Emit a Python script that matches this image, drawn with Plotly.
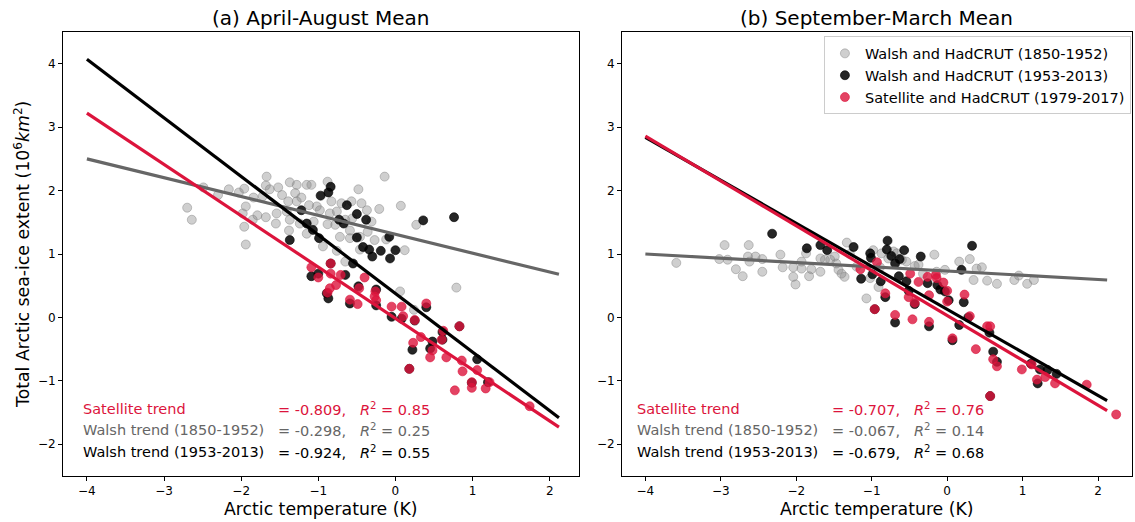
import plotly.graph_objects as go
from plotly.subplots import make_subplots

# ---------------- data ----------------
# Panel (a) April-August mean
a_gray_x = [-2.70, -2.64, -2.49, -2.30, -2.16, -2.03, -1.96, -1.84, -1.94, -1.98, -1.85, -1.79, -1.68, -1.96, -1.94,
            -1.67, -1.68, -1.72, -0.14, -1.37, -1.52, -1.28, -1.15, -1.09, -0.88, -0.48, -1.47, -1.30, -1.22, -1.39,
            -1.28, -1.12, -1.02, -0.83, -0.70, -0.57, -0.44, -0.37, -0.21, 0.07, -1.54, -1.41, -0.98, -0.85, -0.76,
            -0.65, -0.56, -0.31, -1.55, -1.37, -1.24, -1.06, -0.88, -0.78, -1.38, -1.15, -0.59, -0.72, -0.59, -0.46,
            -0.27, -0.94, -0.76, -0.46, -0.12, 0.12, 0.27, -0.65, 0.06, 0.79, 0.24, -0.36, -1.63]
a_gray_y = [1.73, 1.54, 2.05, 1.93, 2.02, 1.97, 2.03, 1.89, 1.75, 1.64, 1.54, 1.61, 1.58, 1.43, 1.15,
            2.22, 2.08, 1.91, 2.22, 2.13, 2.05, 2.09, 2.09, 2.09, 2.14, 2.02, 1.93, 1.96, 1.89, 1.83,
            1.83, 1.77, 1.75, 1.83, 1.80, 1.83, 1.80, 1.69, 1.71, 1.76, 1.64, 1.67, 1.69, 1.64, 1.67,
            1.54, 1.56, 1.51, 1.48, 1.54, 1.48, 1.51, 1.47, 1.46, 1.37, 1.32, 1.37, 1.27, 1.25, 1.27,
            1.22, 1.12, 1.05, 1.07, 1.23, 1.06, 1.46, 0.88, 0.41, 0.47, 0.12, 1.35, 2.02]
a_black_x = [-0.84, -0.87, -0.97, -0.63, -0.50, -0.38, -1.22, -0.73, -0.67, -1.15, -1.07, -0.99, -1.37, -0.50, -0.08,
             0.36, 0.76, -0.42, -0.34, -0.19, 0.00, -0.30, -0.07, -0.55, -0.84, -1.09, -1.00, -0.65, -0.48, -0.87,
             -0.59, -0.25, -0.25, -0.05, 0.08, 0.40, 0.22, 0.45, 0.61, 0.83, 0.18, 1.06, 0.99, 1.20, 0.61,
             0.25, 0.48, -0.89]
a_black_y = [2.06, 1.97, 1.92, 1.77, 1.63, 1.54, 1.69, 1.54, 1.48, 1.48, 1.38, 1.25, 1.22, 1.26, 1.27,
             1.53, 1.58, 1.11, 1.07, 1.05, 1.06, 0.96, 0.93, 0.85, 0.85, 0.65, 0.69, 0.67, 0.49, 0.30,
             0.22, 0.44, 0.19, 0.01, -0.02, 0.16, -0.51, -0.49, -0.35, -0.14, -0.81, -0.66, -1.03, -1.02, -0.23,
             -0.05, -0.38, 0.38]
a_red_x = [-1.09, -0.84, -1.00, -0.84, -0.71, -0.40, -0.85, -0.77, -0.88, -0.59, -0.49, -0.47, -0.26, -0.27, -0.05,
           0.08, 0.10, 0.25, 0.40, 0.83, 0.62, 0.60, 0.33, 0.23, 0.48, 0.45, 0.66, 0.86, 0.87, 1.06,
           0.77, 0.99, 0.99, 1.17, 1.22, 0.18, 1.74, -0.25]
a_red_y = [0.79, 0.85, 0.63, 0.69, 0.67, 0.63, 0.46, 0.51, 0.39, 0.28, 0.21, 0.46, 0.41, 0.33, 0.17,
           0.17, 0.02, -0.04, 0.22, -0.14, -0.21, -0.35, -0.31, -0.40, -0.52, -0.63, -0.63, -0.68, -0.85, -0.83,
           -1.15, -1.02, -1.11, -1.12, -1.02, -0.81, -1.40, 0.27]

# Panel (b) September-March mean
b_gray_x = [-3.59, -2.95, -2.63, -3.02, -2.91, -2.80, -2.71, -2.64, -2.62, -2.54, -2.45, -2.45, -2.21, -2.18, -2.04,
            -2.04, -2.01, -1.93, -1.93, -1.87, -1.83, -1.80, -1.68, -1.68, -1.62, -1.33, -1.49, -1.44, -1.36, -0.98,
            -0.87, -0.67, -0.54, -0.78, -1.07, -0.91, -0.38, -0.17, -0.03, 0.16, 0.30, 0.39, 0.46, 0.35, 0.53,
            0.66, 0.89, 0.95, 1.06, 1.15, -0.32, -0.14, -1.20, -1.29, -1.47, -0.89, -0.71, -0.60, -0.43, -1.55,
            -1.02, -1.40]
b_gray_y = [0.86, 1.14, 1.14, 0.92, 0.91, 0.76, 0.65, 0.96, 0.88, 0.96, 0.92, 0.72, 0.99, 0.79, 0.79,
            0.64, 0.52, 0.88, 0.77, 1.01, 0.65, 0.76, 0.72, 0.93, 0.91, 1.18, 0.96, 0.75, 0.64, 1.06,
            1.01, 1.01, 0.88, 0.93, 0.30, 0.48, 0.83, 0.99, 0.75, 0.88, 0.92, 0.77, 0.79, 0.59, 0.58,
            0.53, 0.59, 0.66, 0.53, 0.59, 0.69, 0.72, 0.80, 1.00, 0.85, 0.79, 1.04, 0.91, 0.81, 0.91,
            0.62, 0.69]
b_black_x = [-2.32, -1.86, -1.68, -1.59, -1.24, -1.02, -1.01, -0.79, -0.80, -0.74, -0.63, -0.57, -0.69, -0.35, 0.33,
             -1.14, -0.99, -0.88, -0.64, -0.54, -0.51, -0.43, -0.26, -0.13, -0.09, 0.02, -0.03, 0.19, 0.22, -0.82,
             -0.69, -0.24, 0.16, 0.28, -0.96, 0.07, 0.56, 0.61, 0.66, 1.11, 1.23, 1.33, 1.45, 1.20, 0.57]
b_black_y = [1.32, 1.09, 1.14, 1.06, 1.11, 1.01, 0.94, 1.21, 1.07, 0.97, 0.92, 1.06, 0.85, 0.96, 1.13,
             0.61, 0.68, 0.57, 0.65, 0.57, 0.42, 0.21, 0.54, 0.51, 0.44, 0.27, 0.41, 0.75, 0.24, 0.32,
             -0.08, -0.14, -0.12, 0.00, 0.13, -0.36, -0.24, -0.54, -0.70, -0.73, -0.82, -0.83, -0.89, -1.04, -1.24]
b_red_x = [-0.93, -1.15, -0.49, -0.38, -0.26, -0.15, -0.14, -0.05, 0.00, 0.23, -0.82, -0.51, -0.24, -0.96, -0.69,
           -0.46, -0.24, 0.30, 0.00, -0.43, 0.07, 0.38, 0.53, 0.57, 0.61, 0.66, 0.99, 1.12, 1.19, 1.30,
           1.43, 1.85, 2.24, 0.57]
b_red_y = [0.87, 0.76, 0.69, 0.56, 0.64, 0.67, 0.62, 0.55, 0.42, 0.36, 0.38, 0.32, 0.35, 0.13, 0.04,
           -0.03, -0.07, 0.02, 0.25, 0.23, -0.33, -0.50, -0.14, -0.14, -0.66, -0.77, -0.82, -0.74, -0.98, -0.94,
           -1.04, -1.06, -1.53, -1.24]

# Trend lines: end points (x from -4 to 2.12)
trend_x = [-4.0, 2.12]
a_trend_sat = [3.22, -1.73]
a_trend_w1 = [2.50, 0.68]
a_trend_w2 = [4.07, -1.58]
b_trend_sat = [2.86, -1.47]
b_trend_w1 = [1.00, 0.59]
b_trend_w2 = [2.84, -1.31]

# Trend statistics text
labels = ["Satellite trend", "Walsh trend (1850-1952)", "Walsh trend (1953-2013)"]
a_slopes = ["-0.809", "-0.298", "-0.924"]
a_r2 = ["0.85", "0.25", "0.55"]
b_slopes = ["-0.707", "-0.067", "-0.679"]
b_r2 = ["0.76", "0.14", "0.68"]

titles = ["(a) April-August Mean", "(b) September-March Mean"]
series_names = ["Walsh and HadCRUT (1850-1952)", "Walsh and HadCRUT (1953-2013)", "Satellite and HadCRUT (1979-2017)"]
x_ticks = [-4, -3, -2, -1, 0, 1, 2]
y_ticks = [-2, -1, 0, 1, 2, 3, 4]

# ---------------- styles ----------------
FONT = "DejaVu Sans"
CRIMSON = "#DC143C"
DIMGRAY = "#666666"
marker_styles = [
    dict(size=9, color="rgba(128,128,128,0.38)", line=dict(color="rgba(128,128,128,0.45)", width=1)),
    dict(size=9, color="rgba(0,0,0,0.85)", line=dict(color="rgba(0,0,0,0.6)", width=1)),
    dict(size=9, color="rgba(220,20,60,0.8)", line=dict(color="rgba(220,20,60,0.6)", width=1)),
]
text_colors = [CRIMSON, DIMGRAY, "black"]

fig = make_subplots(rows=1, cols=2, horizontal_spacing=0.04)

panels = [
    (1, [(a_gray_x, a_gray_y), (a_black_x, a_black_y), (a_red_x, a_red_y)],
     [(a_trend_w1, DIMGRAY), (a_trend_w2, "black"), (a_trend_sat, CRIMSON)]),
    (2, [(b_gray_x, b_gray_y), (b_black_x, b_black_y), (b_red_x, b_red_y)],
     [(b_trend_w1, DIMGRAY), (b_trend_w2, "black"), (b_trend_sat, CRIMSON)]),
]

for col, scat, lines in panels:
    for i, (xs, ys) in enumerate(scat):
        fig.add_trace(go.Scatter(x=xs, y=ys, mode="markers", marker=marker_styles[i],
                                 name=series_names[i], showlegend=(col == 2),
                                 legendrank=i + 1), row=1, col=col)
    for ys, c in lines:
        fig.add_trace(go.Scatter(x=trend_x, y=ys, mode="lines", line=dict(color=c, width=3.2),
                                 showlegend=False, hoverinfo="skip"), row=1, col=col)

axis_common = dict(showgrid=False, zeroline=False, showline=True, linecolor="black", linewidth=1,
                   mirror=True, ticks="outside", ticklen=4, tickcolor="black",
                   tickfont=dict(family=FONT, size=12, color="black"))
fig.update_xaxes(**axis_common, tickvals=x_ticks)
fig.update_yaxes(**axis_common, tickvals=y_ticks, range=[-2.5, 4.5])
fig.update_xaxes(range=[-4.31, 2.38], domain=[0.0, 0.4827], row=1, col=1)
fig.update_xaxes(range=[-4.31, 2.45], domain=[0.5229, 1.0], row=1, col=2)

annotations = []
# panel titles and x-axis titles
for k, (xd, t) in enumerate(zip(["x domain", "x2 domain"], titles)):
    yd = "y domain" if k == 0 else "y2 domain"
    annotations.append(dict(text=t, xref=xd, yref=yd, x=0.5, y=1.032, xanchor="center", yanchor="middle",
                            showarrow=False, font=dict(family=FONT, size=20, color="black")))
    annotations.append(dict(text="Arctic temperature (K)", xref=xd, yref=yd, x=0.5, y=-0.074,
                            xanchor="center", yanchor="middle", showarrow=False,
                            font=dict(family=FONT, size=17.3, color="black")))
# y-axis title
annotations.append(dict(text="Total Arctic sea-ice extent (10<sup>6</sup><i>km</i><sup>2</sup>)",
                        xref="paper", yref="y domain", x=-0.0384, y=0.5, textangle=-90,
                        xanchor="center", yanchor="middle", showarrow=False,
                        font=dict(family=FONT, size=17.3, color="black")))
# trend statistics
row_y = [0.151, 0.104, 0.054]
for xd, yd, lx, ex, slopes, r2s in [("x domain", "y domain", 0.034, 0.413, a_slopes, a_r2),
                                    ("x2 domain", "y2 domain", 0.026, 0.4075, b_slopes, b_r2)]:
    for i in range(3):
        annotations.append(dict(text=labels[i], xref=xd, yref=yd, x=lx, y=row_y[i], xanchor="left",
                                yanchor="middle", showarrow=False,
                                font=dict(family=FONT, size=14.5, color=text_colors[i])))
        eq = "= " + slopes[i] + ",&nbsp;&nbsp;&nbsp;<i>R</i><sup>2</sup> = " + r2s[i]
        annotations.append(dict(text=eq, xref=xd, yref=yd, x=ex, y=row_y[i], xanchor="left",
                                yanchor="middle", showarrow=False,
                                font=dict(family=FONT, size=14.5, color=text_colors[i])))

fig.update_layout(
    width=1135, height=522,
    margin=dict(l=63, r=3, t=32, b=46),
    plot_bgcolor="white", paper_bgcolor="white",
    font=dict(family=FONT, color="black"),
    annotations=annotations,
    legend=dict(x=0.999, y=0.99, xanchor="right", yanchor="top",
                bgcolor="rgba(255,255,255,0.85)", bordercolor="#cccccc", borderwidth=1,
                font=dict(family=FONT, size=14.5, color="black"), tracegroupgap=0,
                itemwidth=30),
    showlegend=True,
)

fig.write_html("out.html", config={"displayModeBar": False},
               post_script="document.body.style.margin='0';document.body.style.overflow='hidden';")
